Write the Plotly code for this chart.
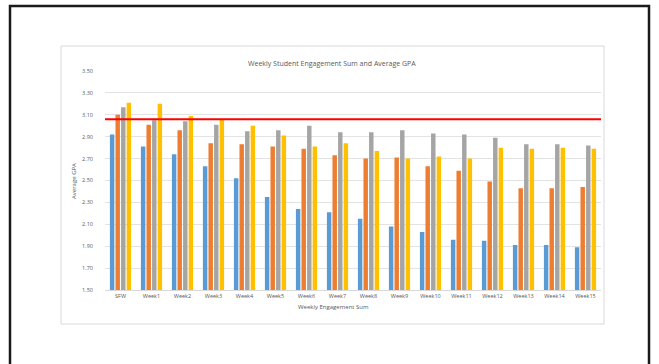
import plotly.graph_objects as go

# Categories and average GPA per engagement group
weeks = ["SFW"] + [f"Week{i}" for i in range(1, 16)]
group_1 = [2.92, 2.81, 2.74, 2.63, 2.52, 2.35, 2.24, 2.21, 2.15, 2.08, 2.03, 1.96, 1.95, 1.91, 1.91, 1.89]
group_2 = [3.10, 3.01, 2.96, 2.84, 2.83, 2.81, 2.79, 2.73, 2.70, 2.71, 2.63, 2.59, 2.49, 2.43, 2.43, 2.44]
group_3 = [3.17, 3.05, 3.04, 3.01, 2.95, 2.96, 3.00, 2.94, 2.94, 2.96, 2.93, 2.92, 2.89, 2.83, 2.83, 2.82]
group_4 = [3.21, 3.20, 3.09, 3.06, 3.00, 2.91, 2.81, 2.84, 2.77, 2.70, 2.72, 2.70, 2.80, 2.79, 2.80, 2.79]
reference_gpa = 3.06

series = [
    ("Group 1", group_1, "#5B9BD5"),
    ("Group 2", group_2, "#ED7D31"),
    ("Group 3", group_3, "#A5A5A5"),
    ("Group 4", group_4, "#FFC000"),
]

W, H = 659, 364
L, R, T, B = 105, 601, 71, 290  # plot area in pixels


def px(x):
    return (x - L) / (R - L)


def py(y):
    return (B - y) / (B - T)


fig = go.Figure()
for name, vals, color in series:
    fig.add_trace(go.Bar(x=weeks, y=vals, name=name,
                         marker=dict(color=color, line=dict(width=0))))

font_family = "Open Sans, Liberation Sans, sans-serif"
grey_text = "#595959"

fig.update_layout(
    width=W, height=H,
    margin=dict(l=L, r=W - R, t=T, b=H - B),
    paper_bgcolor="white", plot_bgcolor="white",
    barmode="group", bargap=0.28, bargroupgap=0.2,
    showlegend=False,
    font=dict(family=font_family, size=6, color=grey_text),
    xaxis=dict(showgrid=False, showline=True, linecolor="#D9D9D9", linewidth=1,
               ticks="", tickfont=dict(size=5.5, color=grey_text)),
    yaxis=dict(range=[1.5, 3.5], dtick=0.2, tick0=1.5, tickformat=".2f",
               showgrid=True, gridcolor="#E3E3E3", gridwidth=1, zeroline=False,
               ticks="", tickfont=dict(size=5.5, color=grey_text), ticklabelstandoff=11),
    shapes=[
        # outer frame
        dict(type="rect", xref="paper", yref="paper",
             x0=px(10), x1=px(649), y0=py(380), y1=py(6),
             line=dict(color="#1A1A1A", width=2.5), layer="below"),
        # chart area border
        dict(type="rect", xref="paper", yref="paper",
             x0=px(61), x1=px(604), y0=py(324), y1=py(46),
             line=dict(color="#D9D9D9", width=1), layer="below"),
        # reference GPA line
        dict(type="line", xref="paper", yref="y", x0=0, x1=1,
             y0=reference_gpa, y1=reference_gpa,
             line=dict(color="#FF0000", width=2)),
    ],
    annotations=[
        dict(text="Weekly Student Engagement Sum and Average GPA", xref="paper", yref="paper",
             x=px(332), y=py(57), showarrow=False, font=dict(size=7, color=grey_text)),
        dict(text="Average GPA", xref="paper", yref="paper", x=px(68), y=py(181),
             textangle=-90, showarrow=False, font=dict(size=6, color=grey_text)),
        dict(text="Weekly Engagement Sum", xref="paper", yref="paper", x=px(333), y=py(313),
             showarrow=False, font=dict(size=6, color=grey_text)),
    ],
)

fig.write_html("out.html")
